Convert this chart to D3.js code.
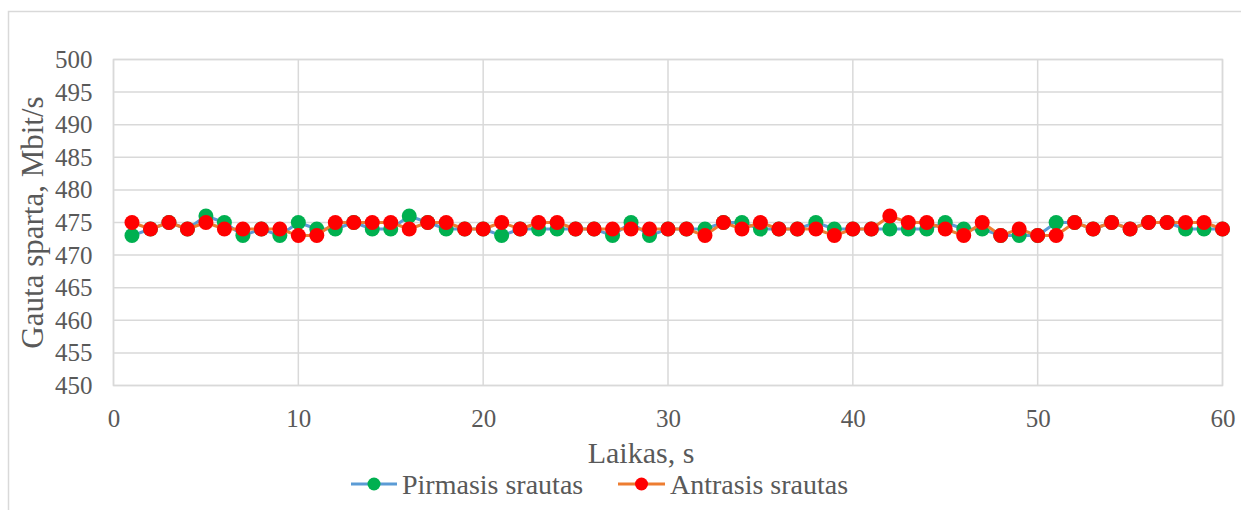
<!DOCTYPE html>
<html>
<head>
<meta charset="utf-8">
<script src="https://cdn.jsdelivr.net/npm/d3@7"></script>
<style>
  html, body { margin: 0; padding: 0; background: #fff; }
  svg { display: block; }
  text { font-family: "Liberation Serif", "Times New Roman", serif; fill: #595959; }
</style>
</head>
<body>
<svg id="chart" width="1241" height="510"></svg>
<script>
// Time in seconds
const seconds = d3.range(1, 61);

// Received throughput, Mbit/s
const pirmasis = [
  473, 474, 475, 474, 476, 475, 473, 474, 473, 475,
  474, 474, 475, 474, 474, 476, 475, 474, 474, 474,
  473, 474, 474, 474, 474, 474, 473, 475, 473, 474,
  474, 474, 475, 475, 474, 474, 474, 475, 474, 474,
  474, 474, 474, 474, 475, 474, 474, 473, 473, 473,
  475, 475, 474, 475, 474, 475, 475, 474, 474, 474
];
const antrasis = [
  475, 474, 475, 474, 475, 474, 474, 474, 474, 473,
  473, 475, 475, 475, 475, 474, 475, 475, 474, 474,
  475, 474, 475, 475, 474, 474, 474, 474, 474, 474,
  474, 473, 475, 474, 475, 474, 474, 474, 473, 474,
  474, 476, 475, 475, 474, 473, 475, 473, 474, 473,
  473, 475, 474, 475, 474, 475, 475, 475, 475, 474
];

const seriesNames = ["Pirmasis srautas", "Antrasis srautas"];
const xTicks = [0, 10, 20, 30, 40, 50, 60];
const yTicks = [450, 455, 460, 465, 470, 475, 480, 485, 490, 495, 500];

const lineColors = ["#5B9BD5", "#ED7D31"];
const markerColors = ["#00B050", "#FF0000"];

const svg = d3.select("#chart");
const plot = { left: 113.5, top: 59.5, right: 1222.5, bottom: 385.5 };

const x = d3.scaleLinear().domain([0, 60]).range([plot.left, plot.right]);
const y = d3.scaleLinear().domain([450, 500]).range([plot.bottom, plot.top]);

// Chart frame
svg.append("rect")
  .attr("x", 8.5).attr("y", 11.5)
  .attr("width", 1400).attr("height", 700)
  .attr("fill", "none").attr("stroke", "#d9d9d9").attr("stroke-width", 1.5);

// Gridlines
svg.append("g").selectAll("line.h").data(yTicks).join("line")
  .attr("x1", plot.left).attr("x2", plot.right)
  .attr("y1", d => y(d)).attr("y2", d => y(d))
  .attr("stroke", "#d9d9d9").attr("stroke-width", 1.5);
svg.append("g").selectAll("line.v").data(xTicks).join("line")
  .attr("x1", d => x(d)).attr("x2", d => x(d))
  .attr("y1", plot.top).attr("y2", plot.bottom)
  .attr("stroke", "#d9d9d9").attr("stroke-width", 1.5);
svg.append("rect")
  .attr("x", plot.left).attr("y", plot.top)
  .attr("width", plot.right - plot.left).attr("height", plot.bottom - plot.top)
  .attr("fill", "none").attr("stroke", "#d9d9d9").attr("stroke-width", 1.5);

// Axes (labels only)
const yAxis = svg.append("g")
  .attr("transform", `translate(${plot.left},0)`)
  .call(d3.axisLeft(y).tickValues(yTicks).tickSize(0).tickPadding(21));
const xAxis = svg.append("g")
  .attr("transform", `translate(0,${plot.bottom})`)
  .call(d3.axisBottom(x).tickValues(xTicks).tickSize(0).tickPadding(24));
[yAxis, xAxis].forEach(g => {
  g.select(".domain").remove();
  g.selectAll("text")
    .style("font-family", '"Liberation Serif", "Times New Roman", serif')
    .style("font-size", "25px")
    .attr("fill", "#595959");
});

// Axis titles
svg.append("text")
  .attr("transform", `translate(43,${(plot.top + plot.bottom) / 2}) rotate(-90)`)
  .attr("text-anchor", "middle")
  .style("font-size", "31px")
  .text("Gauta sparta, Mbit/s");
svg.append("text")
  .attr("x", 641).attr("y", 463)
  .attr("text-anchor", "middle")
  .style("font-size", "30px")
  .text("Laikas, s");

// Series
const allSeries = [pirmasis, antrasis];
const line = d3.line().x((d, i) => x(seconds[i])).y(d => y(d));
allSeries.forEach((vals, s) => {
  const g = svg.append("g");
  g.append("path")
    .datum(vals)
    .attr("d", line)
    .attr("fill", "none")
    .attr("stroke", lineColors[s])
    .attr("stroke-width", 3)
    .attr("stroke-linejoin", "round");
  g.selectAll("circle").data(vals).join("circle")
    .attr("cx", (d, i) => x(seconds[i]))
    .attr("cy", d => y(d))
    .attr("r", 7.5)
    .attr("fill", markerColors[s]);
});

// Legend
const legendItems = [
  { x0: 351, x1: 397, text: 402 },
  { x0: 618, x1: 665, text: 670 }
];
const ly = 484;
legendItems.forEach((it, s) => {
  const g = svg.append("g");
  g.append("line")
    .attr("x1", it.x0).attr("x2", it.x1)
    .attr("y1", ly).attr("y2", ly)
    .attr("stroke", lineColors[s]).attr("stroke-width", 3);
  g.append("circle")
    .attr("cx", (it.x0 + it.x1) / 2).attr("cy", ly)
    .attr("r", 6.5).attr("fill", markerColors[s]);
  g.append("text")
    .attr("x", it.text).attr("y", ly + 10)
    .style("font-size", "28px")
    .text(seriesNames[s]);
});
</script>
</body>
</html>
